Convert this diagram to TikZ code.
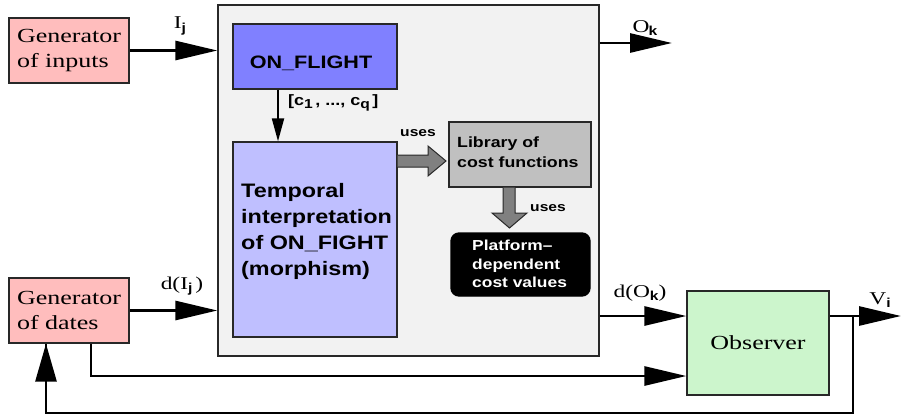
\documentclass[tikz,border=0pt]{standalone}
\usepackage{fontspec}
\setmainfont{Liberation Serif}[FakeStretch=1.3]
\setsansfont{Liberation Sans}[FakeStretch=1.2]
\usetikzlibrary{arrows.meta}
\definecolor{pinkbox}{RGB}{255,189,189}
\definecolor{outerbox}{RGB}{242,242,242}
\definecolor{flightbox}{RGB}{128,128,255}
\definecolor{tempbox}{RGB}{191,191,255}
\definecolor{libbox}{RGB}{192,192,192}
\definecolor{obsbox}{RGB}{204,245,204}
\definecolor{edge}{RGB}{40,40,40}
\newcommand\subtxt[1]{\raisebox{-0.4ex}{\sffamily\bfseries\fontsize{13}{13}\selectfont #1}}
\tikzset{
  box/.style={draw=edge, line width=1.3pt, inner sep=0pt, anchor=center},
  serifbox/.style={box, font=\fontsize{20}{25}\selectfont, align=left},
  lbl/.style={inner sep=0pt, font=\fontsize{18}{18}\selectfont},
  uselbl/.style={inner sep=0pt, font=\sffamily\bfseries\fontsize{13}{13}\selectfont},
  conn/.style={line width=2.8pt, -{Triangle[length=42pt,width=19pt]}},
  plain/.style={line width=2.8pt},
  blockarrow/.style={draw=edge, fill=black!50, line width=1pt, line join=miter},
}
\begin{document}
\begin{tikzpicture}[x=1pt,y=-1pt]
\useasboundingbox (0,0) rectangle (902,416);
% outer box
\node[box, fill=outerbox, minimum width=381pt, minimum height=351pt] (big) at (408.5,180.5) {};
% generators
\node[serifbox, fill=pinkbox, minimum width=120pt, minimum height=65pt] (gi) at (69,50.5) {Generator\\of inputs};
\node[serifbox, fill=pinkbox, minimum width=120pt, minimum height=65pt] (gd) at (69,310.5) {Generator\\of dates};
% inner boxes
\node[box, fill=flightbox, minimum width=164pt, minimum height=65pt] (of) at (315,56.5) {};
\node[inner sep=0pt, font=\sffamily\bfseries\fontsize{18}{18}\selectfont] (oftxt) at (311,63) {ON\_FLIGHT};
\node[box, fill=tempbox, minimum width=164pt, minimum height=195pt] (temp) at (315,239.5) {};
\node[inner sep=0pt, anchor=north west, align=left, font=\sffamily\bfseries\fontsize{19.5}{26}\selectfont] (temptxt) at (241,183) {Temporal\\interpretation\\of ON\_FIGHT\\(morphism)};
\node[box, fill=libbox, minimum width=142pt, minimum height=65pt] (lib) at (520,154.5) {};
\node[inner sep=0pt, anchor=north west, align=left, font=\sffamily\bfseries\fontsize{14.8}{20}\selectfont] (libtxt) at (457,137) {Library of\\cost functions};
\node[box, fill=black, draw=black, rounded corners=8pt, minimum width=139pt, minimum height=63pt] (plat) at (520.5,264.5) {};
\node[inner sep=0pt, anchor=north west, align=left, text=white, font=\sffamily\bfseries\fontsize{14.5}{18.5}\selectfont] (plattxt) at (472,240) {Platform–\\dependent\\cost values};
\node[box, fill=obsbox, minimum width=142pt, minimum height=104pt, font=\fontsize{20}{25}\selectfont] (obs) at (758,343) {Observer};
% coordinates
\coordinate (okend) at (672,43);
\coordinate (viend) at (901,316);
\coordinate (fb1) at (853,316);
\coordinate (fb2) at (853,413);
\coordinate (fb3) at (46,413);
\coordinate (db1) at (91,376);
% connectors
\draw[conn] (gi.east) -- (gi.east -| big.west);
\draw[conn] (gd.east) -- (gd.east -| big.west);
\draw[conn] (big.east |- okend) -- (okend);
\draw[conn] (big.east |- 0,316) -- (obs.west |- 0,316);
\draw[conn] (obs.east |- viend) -- (viend);
\draw[plain, line join=miter] (fb1) -- (fb2) -- (fb3) -- (fb3 |- gd.south);
\draw[line width=2.8pt, -{Triangle[length=38pt,width=21pt]}] (fb3) -- (fb3 |- gd.south);
\draw[conn] (gd.south -| db1) -- (db1) -- (obs.west |- db1);
\draw[line width=2pt, -{Triangle[length=23pt,width=12pt]}] (of.south -| 278,0) -- (temp.north -| 278,0);
% block arrows
\draw[blockarrow] (temp.east |- 0,155) -- (428,155) -- (428,146) -- (446,161) -- (428,176) -- (428,167) -- (temp.east |- 0,167);
\draw[blockarrow] (lib.south -| 503,0) -- (503,213) -- (492,213) -- (509.5,228) -- (527,213) -- (515,213) -- (lib.south -| 515,0);
% labels
\node[lbl] (lij) at (180,26) {I\subtxt{j}};
\node[lbl] (ldij) at (182,286) {d(I\subtxt{j}\,)};
\node[lbl] (lok) at (645,28) {O\kern-1pt\subtxt{k}};
\node[lbl] (ldok) at (640,293) {d(O\subtxt{k})};
\node[lbl] (lvi) at (880,300) {V\subtxt{i}};
\node[inner sep=0pt, anchor=west, font=\sffamily\bfseries\fontsize{15}{15}\selectfont] (lc) at (288,103) {[c\subtxt{1}\,, ..., c\subtxt{q}\,]};
\node[uselbl] (u1) at (418,133) {uses};
\node[uselbl] (u2) at (548,208) {uses};
\end{tikzpicture}
\end{document}
